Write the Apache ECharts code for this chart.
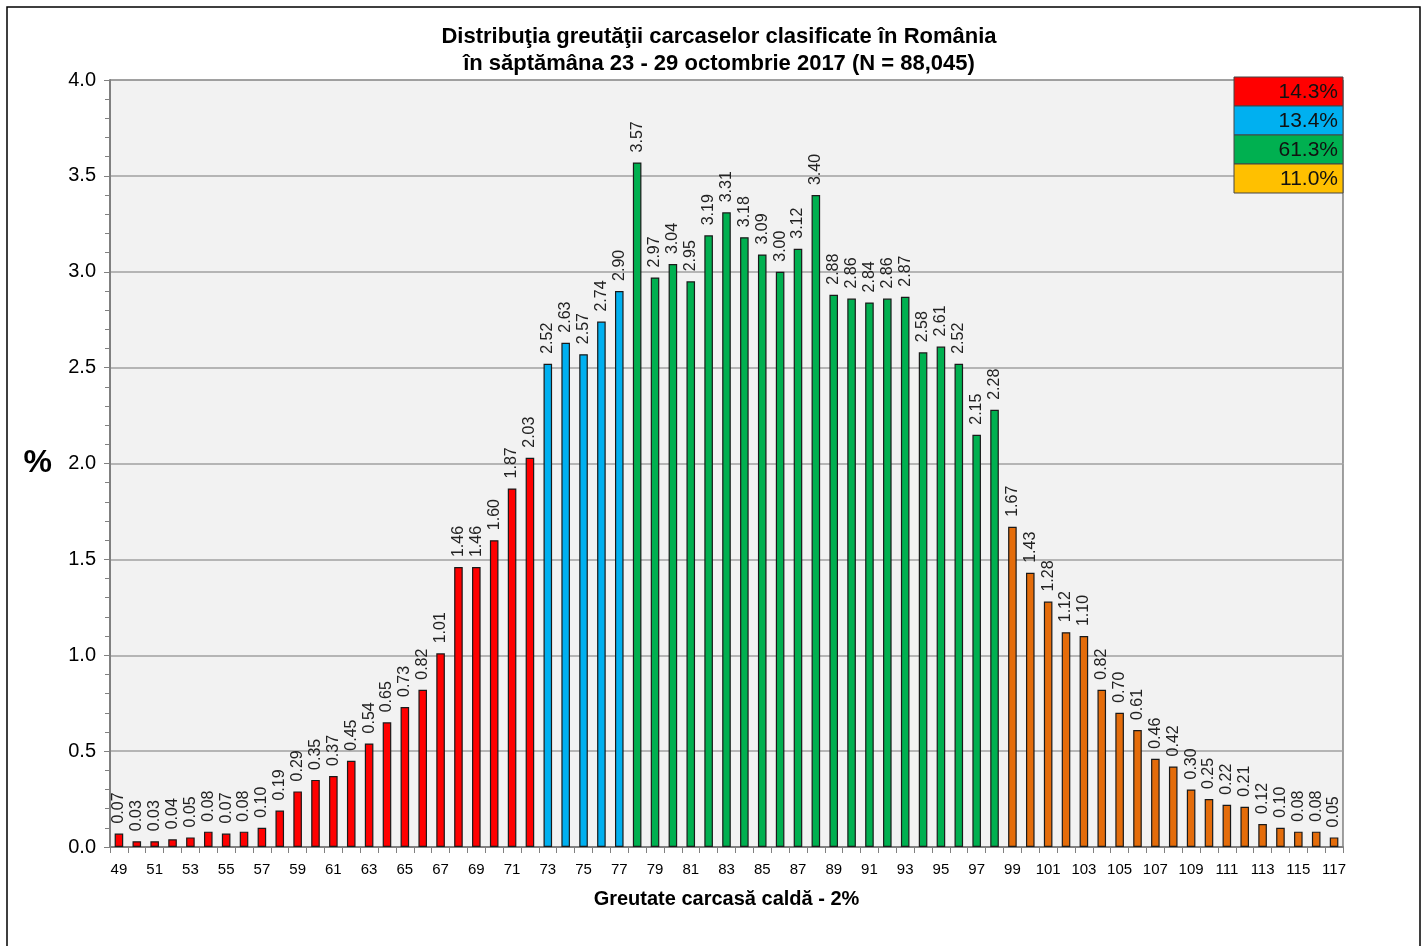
<!DOCTYPE html>
<html><head><meta charset="utf-8">
<script src="https://cdn.jsdelivr.net/npm/echarts@6/dist/echarts.min.js"></script>
<style>html,body{margin:0;padding:0;background:#fff}#c{width:1427px;height:946px}</style>
</head><body><div id="c"></div>
<script>
const categories = [];
for (let w = 49; w <= 117; w++) categories.push(String(w));
const redValues = [0.07,0.03,0.03,0.04,0.05,0.08,0.07,0.08,0.10,0.19,0.29,0.35,0.37,0.45,0.54,0.65,0.73,0.82,1.01,1.46,1.46,1.60,1.87,2.03];
const blueValues = [2.52,2.63,2.57,2.74,2.90];
const greenValues = [3.57,2.97,3.04,2.95,3.19,3.31,3.18,3.09,3.00,3.12,3.40,2.88,2.86,2.84,2.86,2.87,2.58,2.61,2.52,2.15,2.28];
const orangeValues = [1.67,1.43,1.28,1.12,1.10,0.82,0.70,0.61,0.46,0.42,0.30,0.25,0.22,0.21,0.12,0.10,0.08,0.08,0.05];
const legendLabels = ['14.3%','13.4%','61.3%','11.0%'];
const yTicks = [0,0.5,1,1.5,2,2.5,3,3.5,4];

const groups = [
  {vals: redValues, color: '#FF0000', legend: '#FF0000'},
  {vals: blueValues, color: '#00B0F0', legend: '#00B0F0'},
  {vals: greenValues, color: '#00B050', legend: '#00B050'},
  {vals: orangeValues, color: '#E46C0A', legend: '#FFC000'}
];
let offset = 0;
const series = groups.map(g => {
  const data = categories.map(() => '-');
  g.vals.forEach((v, i) => { data[offset + i] = v; });
  offset += g.vals.length;
  return {
    type: 'bar', stack: 'all', data: data, barWidth: '48%',
    itemStyle: {color: g.color, borderColor: '#1a1a1a', borderWidth: 1.2},
    label: {show: true, position: 'top', rotate: 90, align: 'left', verticalAlign: 'middle', distance: 10,
      fontFamily: 'Liberation Sans', fontSize: 16, color: '#222',
      formatter: p => Number(p.value).toFixed(2)},
    silent: true
  };
});

const legendGraphics = [];
legendLabels.forEach((t, i) => {
  legendGraphics.push({type: 'rect', shape: {x: 1234, y: 77 + i * 29, width: 109, height: 29},
    style: {fill: groups[i].legend, stroke: '#444', lineWidth: 1}});
  legendGraphics.push({type: 'text', x: 1338, y: 77 + i * 29 + 15,
    style: {text: t, fill: '#111', font: '21px "Liberation Sans"', textAlign: 'right', textVerticalAlign: 'middle'}});
});

const chart = echarts.init(document.getElementById('c'));
chart.setOption({
  animation: false,
  backgroundColor: '#fff',
  title: {text: 'Distribuţia greutăţii carcaselor clasificate în România\nîn săptămâna 23 - 29 octombrie 2017 (N = 88,045)',
    left: 714, top: 18, textAlign: 'center',
    textStyle: {fontFamily: 'Liberation Sans', fontWeight: 'bold', fontSize: 22, color: '#000', lineHeight: 27}},
  grid: {left: 110, right: 84, top: 80, bottom: 99, show: true, backgroundColor: '#F2F2F2', borderColor: '#444', borderWidth: 1},
  xAxis: {type: 'category', data: categories,
    name: 'Greutate carcasă caldă - 2%', nameLocation: 'middle', nameGap: 42,
    nameTextStyle: {fontFamily: 'Liberation Sans', fontWeight: 'bold', fontSize: 20, color: '#000'},
    axisLine: {lineStyle: {color: '#808080', width: 2}},
    axisTick: {show: true, interval: 0, length: 6, lineStyle: {color: '#808080'}},
    axisLabel: {interval: 1, fontFamily: 'Liberation Sans', fontSize: 15, color: '#000', margin: 15}},
  yAxis: {type: 'value', min: 0, max: 4, interval: 0.5,
    name: '%', nameLocation: 'middle', nameGap: 58, nameRotate: 0,
    nameTextStyle: {fontFamily: 'Liberation Sans', fontWeight: 'bold', fontSize: 32, color: '#000'},
    axisLine: {show: true, lineStyle: {color: '#808080', width: 2}},
    axisTick: {show: true, length: 6, lineStyle: {color: '#808080'}},
    minorTick: {show: true, splitNumber: 5, length: 5, lineStyle: {color: '#808080'}},
    splitLine: {lineStyle: {color: '#A0A0A0', width: 1.5}},
    axisLabel: {fontFamily: 'Liberation Sans', fontSize: 20, color: '#000', margin: 14,
      formatter: v => yTicks.includes(v) ? v.toFixed(1) : ''}},
  series: series,
  graphic: [{type: 'rect', shape: {x: 7, y: 7, width: 1413, height: 960}, style: {fill: 'none', stroke: '#000', lineWidth: 1.5}, z: 100}].concat(legendGraphics.map(g => Object.assign(g, {z: 100})))
});
</script></body></html>
